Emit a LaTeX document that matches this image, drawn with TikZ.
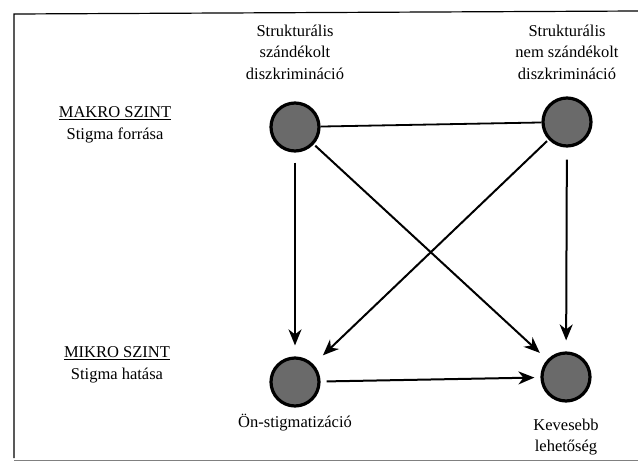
\documentclass[tikz,border=0pt]{standalone}
\usepackage{fontspec}
\setmainfont{Liberation Serif}
\usetikzlibrary{arrows.meta}
\definecolor{dotfill}{HTML}{6A6A6A}
\begin{document}
\begin{tikzpicture}[x=1pt,y=-1pt,
  dot/.style={circle,draw=black,line width=3.2pt,fill=dotfill,minimum size=48pt,inner sep=0pt},
  lbl/.style={align=center,font=\fontsize{16.5}{21.5}\selectfont,inner sep=0pt},
  conn/.style={line width=2pt,-{Stealth[length=16pt,width=13pt,inset=5pt]}},
  plain/.style={line width=1.8pt}]
\useasboundingbox (0,0) rectangle (638,464);
% frame
\draw[line width=1.2pt] (638,11) -- (14,14) -- (14,458);
\draw[line width=0.8pt,gray] (14,460) -- (638,460);
% nodes
\node[dot] (tl) at (295,127) {};
\node[dot] (tr) at (567,122) {};
\node[dot] (bl) at (295,382) {};
\node[dot] (br) at (566,377) {};
% labels
\node[lbl] (tlt) at (295,52) {Strukturális\\szándékolt\\diszkrimináció};
\node[lbl] (trt) at (567,52) {Strukturális\\nem szándékolt\\diszkrimináció};
\node[lbl] (makro) at (115,125) {\underline{MAKRO SZINT}\\Stigma forrása};
\node[lbl] (mikro) at (117,365) {\underline{MIKRO SZINT}\\Stigma hatása};
\node[lbl] (blt) at (295,423) {Ön-stigmatizáció};
\node[lbl] (brt) at (566,437) {Kevesebb\\lehetőség};
% connectors
\draw[plain] (tl) -- (tr);
\draw[conn,shorten <=10pt,shorten >=11pt] (tl) -- (bl);
\draw[conn,shorten <=12pt,shorten >=11pt] (tr) -- (br);
\draw[conn,shorten <=2pt,shorten >=10pt] (tl) -- (br);
\draw[conn,shorten <=2pt,shorten >=13pt] (tr) -- (bl);
\draw[conn,shorten <=6pt,shorten >=6pt] (bl) -- (br);
\end{tikzpicture}
\end{document}
